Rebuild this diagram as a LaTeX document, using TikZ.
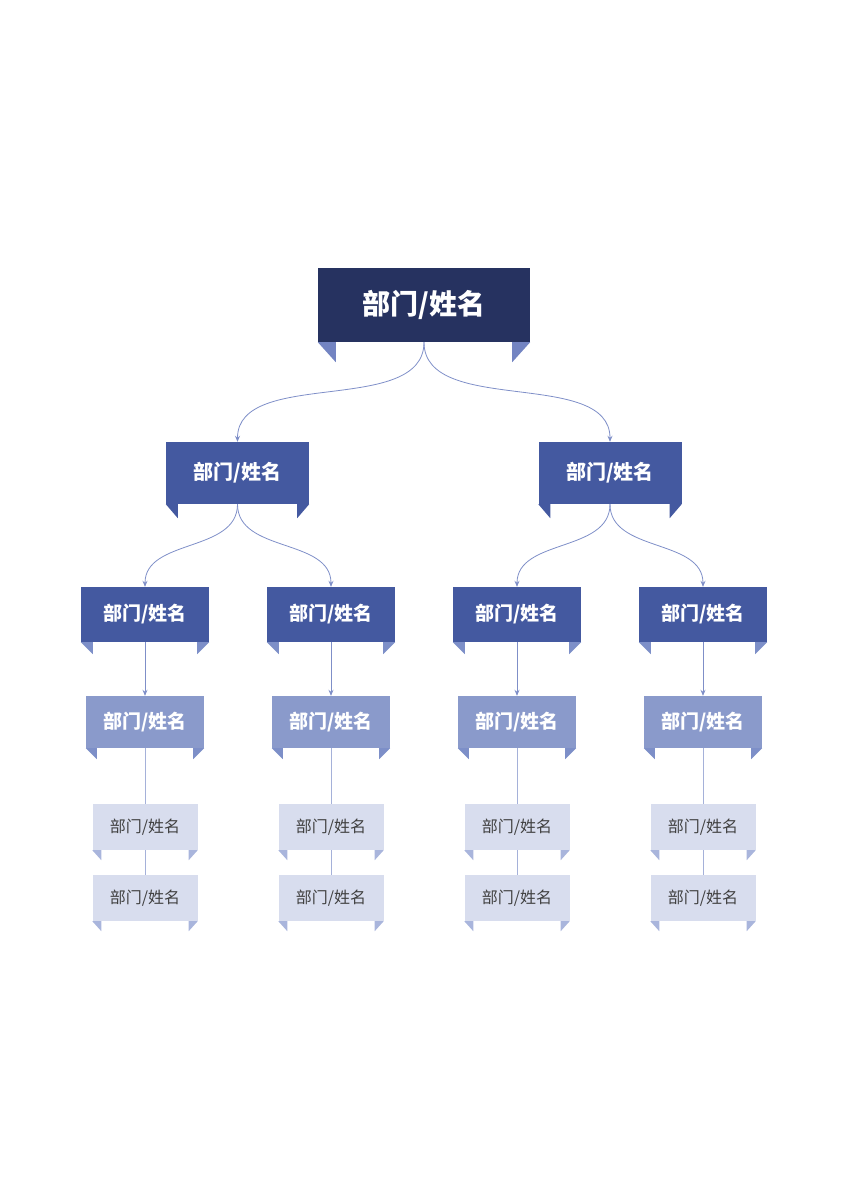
\documentclass[tikz,border=0pt]{standalone}
\usepackage{fontspec}
\usetikzlibrary{arrows.meta}
\newfontfamily\cjk{Noto Sans CJK SC}
\definecolor{navy}{HTML}{263260}
\definecolor{mid}{HTML}{4459A0}
\definecolor{soft}{HTML}{8A9ACB}
\definecolor{pale}{HTML}{D8DDEE}
\definecolor{tabA}{HTML}{7384C2}
\definecolor{tabB}{HTML}{7D8FC8}
\definecolor{tabC}{HTML}{A9B5DC}
\definecolor{link}{HTML}{7F8FC8}
\newcommand\tabs[4]{%
\fill[#2] (#1.south west) -- ++(#3,0) -- ++(0,#4) -- cycle;
\fill[#2] (#1.south east) -- ++(-#3,0) -- ++(0,#4) -- cycle;}
\begin{document}
\begin{tikzpicture}[x=1pt,y=-1pt,
  box/.style={inner sep=0pt,font=\cjk\bfseries,text=white},
  rootbox/.style={box,fill=navy,minimum width=212pt,minimum height=74pt,font=\cjk\bfseries\fontsize{28}{30}\selectfont},
  onebox/.style={box,fill=mid,minimum width=143pt,minimum height=62pt,font=\cjk\bfseries\fontsize{20}{22}\selectfont},
  twobox/.style={box,fill=mid,minimum width=128pt,minimum height=55pt,font=\cjk\bfseries\fontsize{19}{21}\selectfont},
  threebox/.style={box,fill=soft,minimum width=118pt,minimum height=52pt,font=\cjk\bfseries\fontsize{19}{21}\selectfont},
  fourbox/.style={inner sep=0pt,fill=pale,minimum width=105pt,minimum height=46pt,text=black!75,font=\cjk\fontsize{16}{18}\selectfont},
  curve/.style={draw=link,line width=0.8pt,-{Stealth[length=6pt,width=5pt]}},
  plain/.style={draw=link!70,line width=0.6pt}]
\useasboundingbox (0,0) rectangle (848,1200);
% boxes
\node[rootbox] (root) at (424,305) {部门/姓名};
\node[onebox] (l) at (237.5,473) {部门/姓名};
\node[onebox] (r) at (610,473) {部门/姓名};
\foreach \n/\x in {ll/145,lr/331,rl/517,rr/703}{
  \node[twobox] (\n) at (\x,614.5) {部门/姓名};
  \node[threebox] (\n3) at (\x,722) {部门/姓名};
  \node[fourbox] (\n4) at (\x,827) {部门/姓名};
  \node[fourbox] (\n5) at (\x,898) {部门/姓名};
}
% ribbon tabs
\tabs{root}{tabA}{18}{20}
\tabs{l}{mid}{12}{14}
\tabs{r}{mid}{12}{14}
\foreach \n in {ll,lr,rl,rr}{
  \tabs{\n}{tabB}{12}{12}
  \tabs{\n3}{tabB}{11}{11}
  \tabs{\n4}{tabC}{9}{10}
  \tabs{\n5}{tabC}{9}{10}
}
% links
\draw[curve] (root.south) to[out=-90,in=90,looseness=0.9] (l.north);
\draw[curve] (root.south) to[out=-90,in=90,looseness=0.9] (r.north);
\draw[curve] (l.south) to[out=-90,in=90] (ll.north);
\draw[curve] (l.south) to[out=-90,in=90] (lr.north);
\draw[curve] (r.south) to[out=-90,in=90] (rl.north);
\draw[curve] (r.south) to[out=-90,in=90] (rr.north);
\foreach \n in {ll,lr,rl,rr}{
  \draw[curve] (\n.south) -- (\n3.north);
  \draw[plain] (\n3.south) -- (\n4.north);
  \draw[plain] (\n4.south) -- (\n5.north);
}
\end{tikzpicture}
\end{document}
